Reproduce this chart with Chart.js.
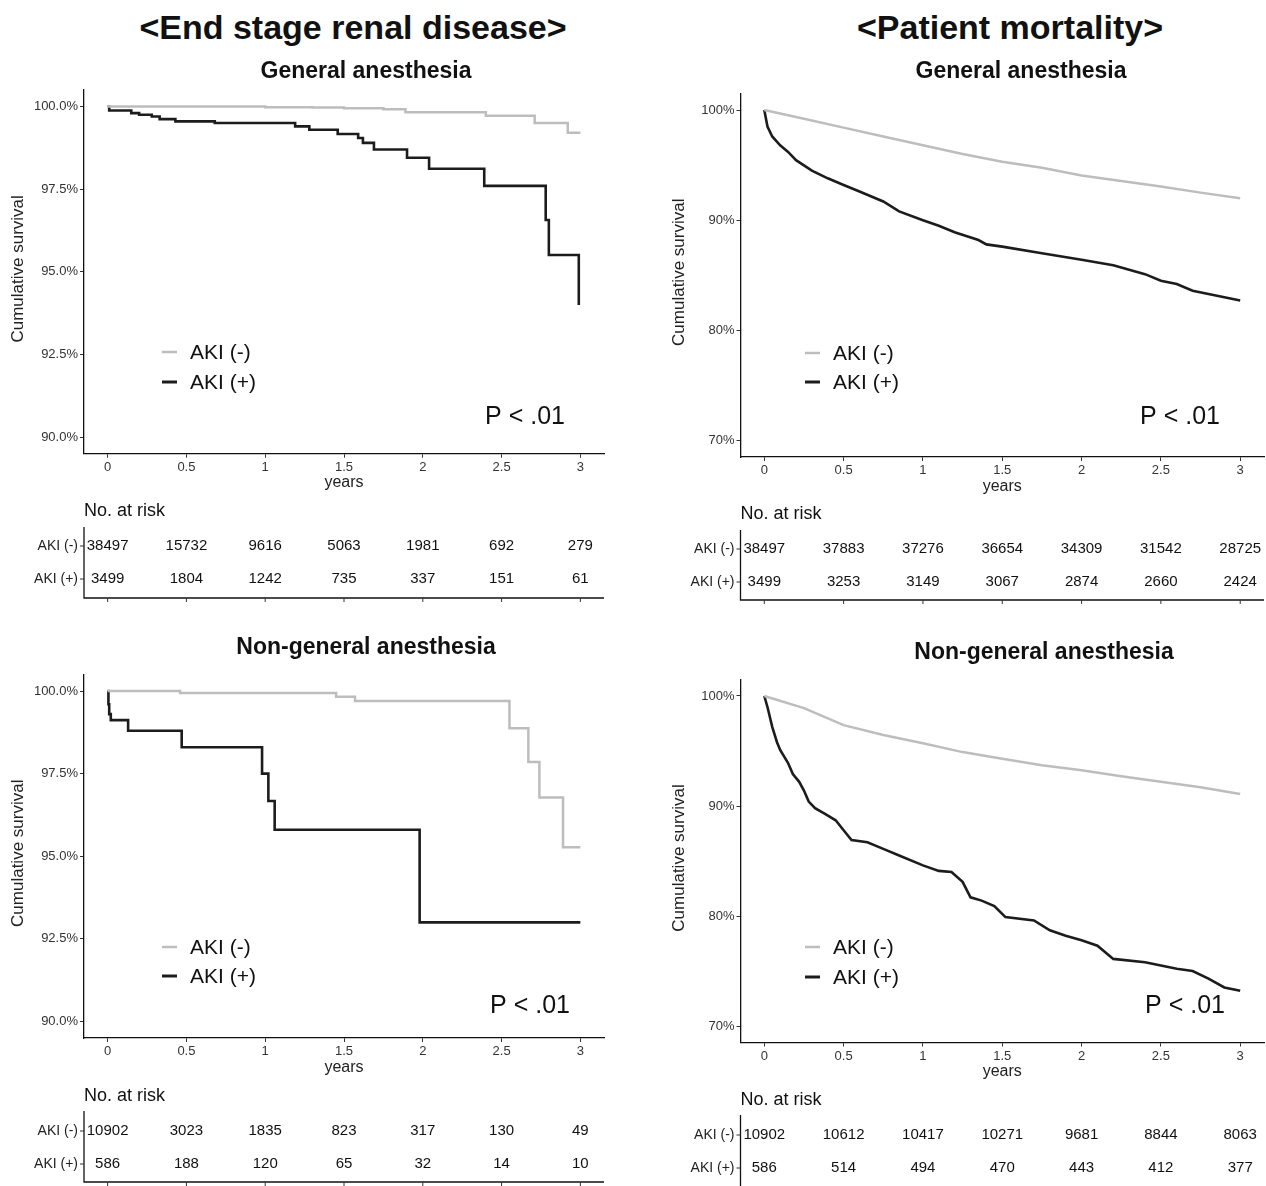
<!DOCTYPE html>
<html><head><meta charset="utf-8">
<script src="https://cdn.jsdelivr.net/npm/chart.js@4"></script>
<style>
body{margin:0;background:#fff;width:1266px;height:1186px;position:relative;overflow:hidden;font-family:"Liberation Sans",Arial,Helvetica,sans-serif;}
canvas{position:absolute;}
.hdr{position:absolute;top:7px;font-weight:bold;font-size:34px;line-height:40px;color:#111;transform:translateX(-50%);white-space:nowrap;}
</style></head><body>
<div class="hdr" style="left:353px">&lt;End stage renal disease&gt;</div>
<div class="hdr" style="left:1010px">&lt;Patient mortality&gt;</div>
<canvas id="c1"></canvas><canvas id="c2"></canvas><canvas id="c3"></canvas><canvas id="c4"></canvas>
<script>
// ---------- data ----------
const groups = ['AKI (-)', 'AKI (+)'];
const timeTicks = [0, 0.5, 1, 1.5, 2, 2.5, 3];
const timeLabels = ['0', '0.5', '1', '1.5', '2', '2.5', '3'];
const esrdTicks = [90, 92.5, 95, 97.5, 100];
const esrdTickLabels = ['90.0%', '92.5%', '95.0%', '97.5%', '100.0%'];
const mortTicks = [70, 80, 90, 100];
const mortTickLabels = ['70%', '80%', '90%', '100%'];
const pValueText = 'P < .01';

// ESRD, general anesthesia
const esrdGA_negT = [0, 1.0, 1.3, 1.5, 1.75, 1.89, 2.40, 2.71, 2.92, 3.0];
const esrdGA_negS = [100, 99.98, 99.97, 99.95, 99.92, 99.83, 99.72, 99.5, 99.21, 99.21];
const esrdGA_posT = [0, 0.01, 0.15, 0.2, 0.28, 0.33, 0.43, 0.68, 1.19, 1.28, 1.46, 1.59, 1.62, 1.69, 1.9, 2.04, 2.39, 2.78, 2.8, 2.99];
const esrdGA_posS = [100, 99.88, 99.8, 99.75, 99.7, 99.62, 99.55, 99.5, 99.4, 99.3, 99.17, 99.05, 98.9, 98.7, 98.45, 98.12, 97.6, 96.57, 95.51, 94.0];
const esrdGA_riskNeg = [38497, 15732, 9616, 5063, 1981, 692, 279];
const esrdGA_riskPos = [3499, 1804, 1242, 735, 337, 151, 61];

// Mortality, general anesthesia
const mortGA_negT = [0, 0.25, 0.5, 0.75, 1, 1.25, 1.5, 1.75, 2, 2.25, 2.5, 2.75, 3];
const mortGA_negS = [100, 99.2, 98.4, 97.6, 96.8, 96.0, 95.3, 94.75, 94.05, 93.55, 93.05, 92.5, 92.0];
const mortGA_posT = [0, 0.02, 0.05, 0.1, 0.15, 0.2, 0.3, 0.4, 0.5, 0.6, 0.75, 0.85, 1.0, 1.1, 1.2, 1.35, 1.4, 1.5, 1.75, 2.0, 2.2, 2.4, 2.5, 2.6, 2.7, 2.8, 3.0];
const mortGA_posS = [100, 98.5, 97.6, 96.8, 96.2, 95.45, 94.5, 93.8, 93.2, 92.6, 91.7, 90.8, 90.0, 89.5, 88.9, 88.2, 87.8, 87.6, 87.0, 86.4, 85.9, 85.1, 84.5, 84.2, 83.6, 83.3, 82.7];
const mortGA_riskNeg = [38497, 37883, 37276, 36654, 34309, 31542, 28725];
const mortGA_riskPos = [3499, 3253, 3149, 3067, 2874, 2660, 2424];

// ESRD, non-general anesthesia
const esrdNGA_negT = [0, 0.46, 1.45, 1.57, 2.55, 2.67, 2.74, 2.89, 3.0];
const esrdNGA_negS = [100, 99.94, 99.83, 99.7, 98.87, 97.85, 96.78, 95.27, 95.27];
const esrdNGA_posT = [0, 0.005, 0.01, 0.02, 0.13, 0.47, 0.98, 1.02, 1.06, 1.98, 3.0];
const esrdNGA_posS = [100, 99.6, 99.3, 99.12, 98.8, 98.3, 97.5, 96.67, 95.8, 93.0, 93.0];
const esrdNGA_riskNeg = [10902, 3023, 1835, 823, 317, 130, 49];
const esrdNGA_riskPos = [586, 188, 120, 65, 32, 14, 10];

// Mortality, non-general anesthesia
const mortNGA_negT = [0, 0.25, 0.5, 0.75, 1, 1.25, 1.5, 1.75, 2, 2.25, 2.5, 2.75, 3];
const mortNGA_negS = [100, 98.9, 97.35, 96.45, 95.7, 94.9, 94.3, 93.7, 93.25, 92.7, 92.2, 91.7, 91.1];
const mortNGA_posT = [0, 0.02, 0.05, 0.08, 0.1, 0.15, 0.18, 0.22, 0.25, 0.28, 0.32, 0.38, 0.45, 0.5, 0.55, 0.65, 0.75, 0.85, 1.0, 1.1, 1.18, 1.25, 1.3, 1.37, 1.45, 1.52, 1.7, 1.8, 1.9, 2.0, 2.1, 2.2, 2.4, 2.5, 2.6, 2.7, 2.8, 2.9, 3.0];
const mortNGA_posS = [100, 99.0, 97.2, 95.8, 95.1, 93.9, 92.9, 92.2, 91.4, 90.4, 89.8, 89.3, 88.7, 87.8, 86.9, 86.7, 86.1, 85.5, 84.6, 84.1, 84.0, 83.1, 81.7, 81.4, 80.9, 79.9, 79.6, 78.7, 78.2, 77.8, 77.3, 76.1, 75.8, 75.5, 75.2, 75.0, 74.3, 73.5, 73.2];
const mortNGA_riskNeg = [10902, 10612, 10417, 10271, 9681, 8844, 8063];
const mortNGA_riskPos = [586, 514, 494, 470, 443, 412, 377];

// ---------- rendering ----------
const FONT = '"Liberation Sans", Arial, Helvetica, sans-serif';
Chart.defaults.font.family = FONT;
const GRAY = '#bdbdbd', BLACK = '#1c1c1c', AXIS = '#111', TXT = '#333';

function pts(T, S) { return T.map((t, i) => ({ x: t, y: S[i] })); }

function makePanel(p) {
  const cv = document.getElementById(p.id);
  cv.width = p.canvas.w; cv.height = p.canvas.h;
  cv.style.left = p.canvas.x + 'px'; cv.style.top = p.canvas.y + 'px';
  const A = p.area;
  const yW = A.l - p.canvas.x;
  const xH = 30;
  const pad = { left: 0, top: A.t - p.canvas.y, right: p.canvas.x + p.canvas.w - A.r, bottom: p.canvas.y + p.canvas.h - A.b - xH };
  const X = v => v - p.canvas.x, Y = v => v - p.canvas.y;

  const annot = {
    id: 'annot_' + p.id,
    afterDraw(chart) {
      const ctx = chart.ctx, xs = chart.scales.x, ca = chart.chartArea;
      ctx.save();
      ctx.textBaseline = 'middle';
      // subtitle
      ctx.fillStyle = '#111'; ctx.textAlign = 'center';
      ctx.font = 'bold 23px ' + FONT;
      ctx.fillText(p.subtitle, X(p.sub.x), Y(p.sub.y));
      // y title
      ctx.save();
      ctx.translate(X(p.ytitleX), (ca.top + ca.bottom) / 2 - 3);
      ctx.rotate(-Math.PI / 2);
      ctx.font = '17px ' + FONT; ctx.fillStyle = '#222';
      ctx.fillText('Cumulative survival', 0, 0);
      ctx.restore();
      // x title
      ctx.font = '16px ' + FONT; ctx.fillStyle = '#222';
      ctx.fillText('years', xs.getPixelForValue(1.5), Y(p.xtitleY));
      // legend
      const cols = [GRAY, BLACK];
      for (let i = 0; i < 2; i++) {
        ctx.strokeStyle = cols[i]; ctx.lineWidth = i ? 3 : 2.5;
        ctx.beginPath(); ctx.moveTo(X(p.leg.x1), Y(p.leg.y[i])); ctx.lineTo(X(p.leg.x2), Y(p.leg.y[i])); ctx.stroke();
        ctx.fillStyle = '#111'; ctx.textAlign = 'left'; ctx.font = '21px ' + FONT;
        ctx.fillText(groups[i], X(p.leg.tx), Y(p.leg.y[i]) + 1);
      }
      // p value
      ctx.textAlign = 'center'; ctx.font = '25px ' + FONT; ctx.fillStyle = '#111';
      ctx.fillText(pValueText, X(p.pv.x), Y(p.pv.y));
      // risk table
      const R = p.risk;
      ctx.textAlign = 'left'; ctx.font = '18px ' + FONT; ctx.fillStyle = '#111';
      ctx.fillText('No. at risk', X(A.l), Y(R.titleY));
      const rows = [p.riskNeg, p.riskPos];
      ctx.strokeStyle = AXIS; ctx.lineWidth = 1.3;
      ctx.beginPath();
      ctx.moveTo(X(A.l), Y(R.top)); ctx.lineTo(X(A.l), Y(R.bottom)); ctx.lineTo(X(A.r), Y(R.bottom));
      ctx.stroke();
      ctx.lineWidth = 1; ctx.strokeStyle = '#333';
      ctx.beginPath();
      timeTicks.forEach(t => { const px = xs.getPixelForValue(t); ctx.moveTo(px, Y(R.bottom)); ctx.lineTo(px, Y(R.bottom) + 4); });
      R.rowY.forEach(y => { ctx.moveTo(X(A.l) - 4, Y(y)); ctx.lineTo(X(A.l), Y(y)); });
      ctx.stroke();
      for (let r = 0; r < 2; r++) {
        ctx.textAlign = 'right'; ctx.font = '14px ' + FONT; ctx.fillStyle = '#222';
        ctx.fillText(groups[r], X(A.l) - 6, Y(R.rowY[r]));
        ctx.textAlign = 'center'; ctx.font = '15px ' + FONT; ctx.fillStyle = '#111';
        rows[r].forEach((n, j) => ctx.fillText(String(n), xs.getPixelForValue(timeTicks[j]), Y(R.rowY[r])));
      }
      ctx.restore();
    }
  };

  new Chart(cv, {
    type: 'line',
    data: {
      datasets: [
        { label: groups[0], data: pts(p.negT, p.negS), borderColor: GRAY, borderWidth: 2.5, pointRadius: 0, stepped: p.stepped, tension: 0, fill: false, borderJoinStyle: 'miter', borderCapStyle: 'butt' },
        { label: groups[1], data: pts(p.posT, p.posS), borderColor: BLACK, borderWidth: 2.6, pointRadius: 0, stepped: p.stepped, tension: 0, fill: false, borderJoinStyle: 'miter', borderCapStyle: 'butt' }
      ]
    },
    options: {
      responsive: false, animation: false, events: [],
      layout: { padding: pad },
      plugins: { legend: { display: false }, title: { display: false }, tooltip: { enabled: false } },
      scales: {
        x: {
          type: 'linear', min: -0.15, max: 3.15,
          afterBuildTicks: s => { s.ticks = timeTicks.map(v => ({ value: v })); },
          afterFit: s => { s.height = xH; },
          ticks: { callback: (v, i) => timeLabels[i], color: TXT, font: { size: 13 }, padding: 2, maxRotation: 0, autoSkip: false },
          grid: { display: true, drawOnChartArea: false, drawTicks: true, tickLength: 4, color: '#333', lineWidth: 1 },
          border: { display: true, color: AXIS, width: 1.3 }
        },
        y: {
          type: 'linear', min: p.ymin, max: p.ymax,
          afterBuildTicks: s => { s.ticks = p.yTicks.map(v => ({ value: v })); },
          afterFit: s => { s.width = yW; },
          ticks: { callback: (v, i) => p.yLabels[i], color: TXT, font: { size: 13 }, padding: 2, autoSkip: false },
          grid: { display: true, drawOnChartArea: false, drawTicks: true, tickLength: 4, color: '#333', lineWidth: 1 },
          border: { display: true, color: AXIS, width: 1.3 }
        }
      }
    },
    plugins: [annot]
  });
}

makePanel({
  id: 'c1', canvas: { x: 0, y: 40, w: 633, h: 575 }, area: { l: 84, r: 604, t: 90, b: 453.7 },
  ymin: 89.5, ymax: 100.5, yTicks: esrdTicks, yLabels: esrdTickLabels, stepped: true,
  negT: esrdGA_negT, negS: esrdGA_negS, posT: esrdGA_posT, posS: esrdGA_posS,
  riskNeg: esrdGA_riskNeg, riskPos: esrdGA_riskPos,
  subtitle: 'General anesthesia', sub: { x: 366, y: 72 }, ytitleX: 18, xtitleY: 483,
  leg: { x1: 162, x2: 177, tx: 190, y: [352, 382] }, pv: { x: 525, y: 417 },
  risk: { titleY: 511, rowY: [546, 579], top: 527, bottom: 598 }
});
makePanel({
  id: 'c2', canvas: { x: 633, y: 40, w: 633, h: 575 }, area: { l: 740.5, r: 1264, t: 93.5, b: 457 },
  ymin: 68.5, ymax: 101.5, yTicks: mortTicks, yLabels: mortTickLabels, stepped: false,
  negT: mortGA_negT, negS: mortGA_negS, posT: mortGA_posT, posS: mortGA_posS,
  riskNeg: mortGA_riskNeg, riskPos: mortGA_riskPos,
  subtitle: 'General anesthesia', sub: { x: 1021, y: 72 }, ytitleX: 679, xtitleY: 487,
  leg: { x1: 805, x2: 820, tx: 833, y: [353, 382] }, pv: { x: 1180, y: 417 },
  risk: { titleY: 514, rowY: [549, 582], top: 530, bottom: 600 }
});
makePanel({
  id: 'c3', canvas: { x: 0, y: 615, w: 633, h: 571 }, area: { l: 84, r: 604, t: 674.5, b: 1038 },
  ymin: 89.5, ymax: 100.5, yTicks: esrdTicks, yLabels: esrdTickLabels, stepped: true,
  negT: esrdNGA_negT, negS: esrdNGA_negS, posT: esrdNGA_posT, posS: esrdNGA_posS,
  riskNeg: esrdNGA_riskNeg, riskPos: esrdNGA_riskPos,
  subtitle: 'Non-general anesthesia', sub: { x: 366, y: 648 }, ytitleX: 18, xtitleY: 1068,
  leg: { x1: 162, x2: 177, tx: 190, y: [947, 976] }, pv: { x: 530, y: 1006 },
  risk: { titleY: 1096, rowY: [1131, 1164], top: 1111, bottom: 1182 }
});
makePanel({
  id: 'c4', canvas: { x: 633, y: 615, w: 633, h: 571 }, area: { l: 740.5, r: 1264, t: 679.5, b: 1042.5 },
  ymin: 68.5, ymax: 101.5, yTicks: mortTicks, yLabels: mortTickLabels, stepped: false,
  negT: mortNGA_negT, negS: mortNGA_negS, posT: mortNGA_posT, posS: mortNGA_posS,
  riskNeg: mortNGA_riskNeg, riskPos: mortNGA_riskPos,
  subtitle: 'Non-general anesthesia', sub: { x: 1044, y: 653 }, ytitleX: 679, xtitleY: 1072,
  leg: { x1: 805, x2: 820, tx: 833, y: [947, 977] }, pv: { x: 1185, y: 1006 },
  risk: { titleY: 1100, rowY: [1135, 1168], top: 1115, bottom: 1188 }
});
</script>
</body></html>
